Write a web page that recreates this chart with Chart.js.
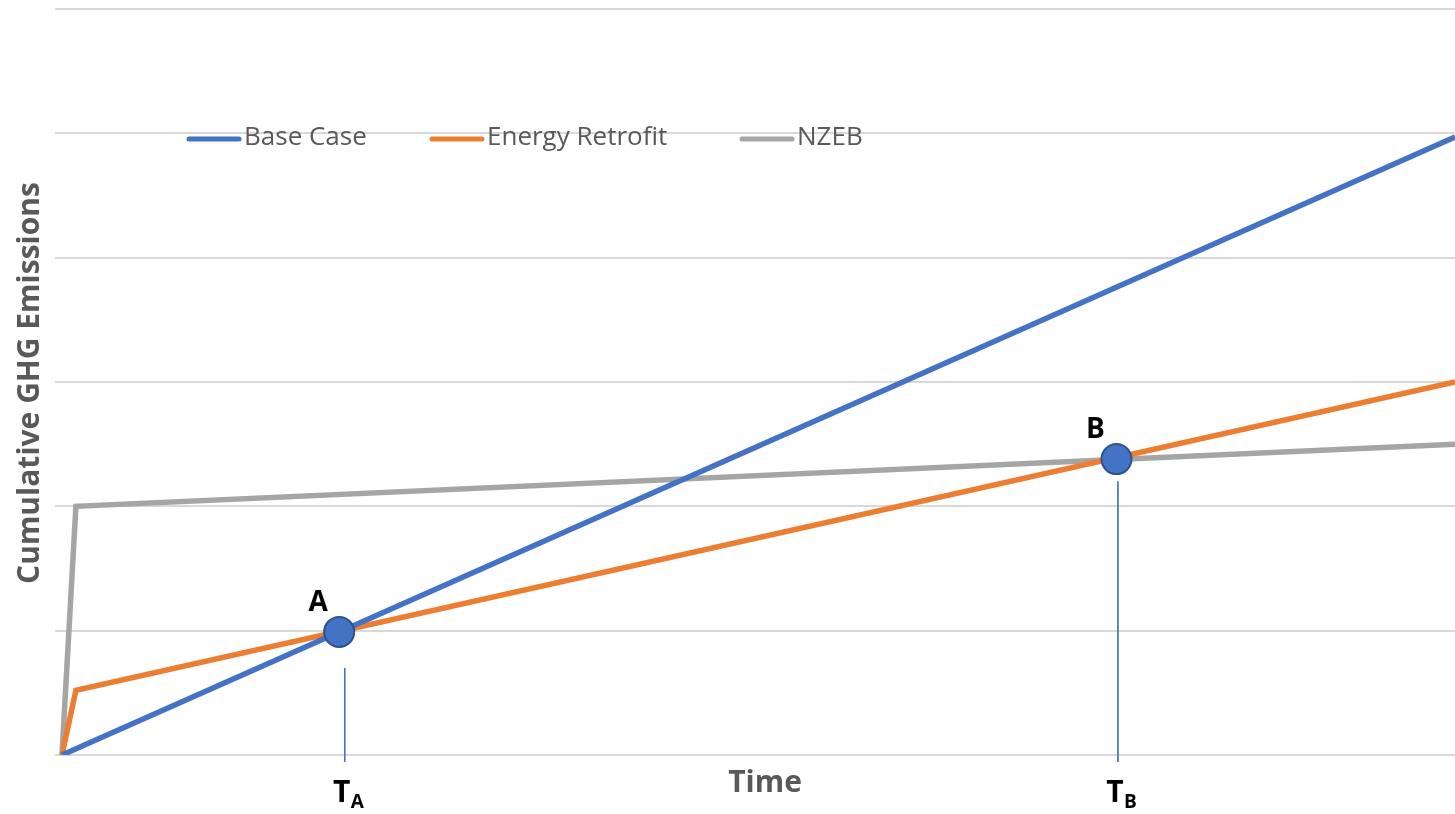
<!DOCTYPE html>
<html lang="en">
<head>
    <meta charset="UTF-8">
    <title>Cumulative GHG Emissions</title>
    <script src="https://cdn.jsdelivr.net/npm/chart.js"></script>
    <style>
        body { margin: 0; background: #fff; }
    </style>
</head>
<body>
    <canvas id="grafico" width="1455" height="814"></canvas>

    <script>
        // data (time in % of the horizon, emissions in arbitrary units)
        const baseTime = [0, 100];
        const baseValues = [0, 49.7];
        const retrofitTime = [0, 1, 100];
        const retrofitValues = [0, 5.2, 30];
        const nzebTime = [0, 1, 100];
        const nzebValues = [0, 20, 25];

        const pointNames = ["A", "B"];
        const pointTime = [19.9, 75.7];
        const pointValues = [9.9, 23.8];

        // thin markers going down to the axis
        const dropTime = [20.3, 75.8];
        const dropTop = [7.0, 22.0];
        const dropBottom = -0.55;

        const seriesNames = ["Base Case", "Energy Retrofit", "NZEB"];
        const seriesColors = ["#4472C4", "#ED7D31", "#A5A5A5"];

        function pares(xs, ys) {
            return xs.map((x, i) => ({ x: x, y: ys[i] }));
        }

        const datasets = [
            { label: seriesNames[0], data: pares(baseTime, baseValues), borderColor: seriesColors[0] },
            { label: seriesNames[1], data: pares(retrofitTime, retrofitValues), borderColor: seriesColors[1] },
            { label: seriesNames[2], data: pares(nzebTime, nzebValues), borderColor: seriesColors[2] }
        ].map(d => Object.assign(d, {
            showLine: true, borderWidth: 5.5, pointRadius: 0, borderJoinStyle: "miter", order: 2
        }));

        dropTime.forEach((t, i) => {
            datasets.push({
                label: "drop" + i,
                data: [{ x: t, y: dropTop[i] }, { x: t, y: dropBottom }],
                showLine: true, borderColor: "#4472C4", borderWidth: 1, pointRadius: 0,
                clip: false, order: 3
            });
        });

        datasets.push({
            label: "pontos",
            data: pares(pointTime, pointValues),
            showLine: false,
            pointRadius: 15,
            pointBackgroundColor: "#4472C4",
            pointBorderColor: "#2F528F",
            pointBorderWidth: 2,
            order: 1
        });

        // texts: legend, axis titles, A/B and T_A/T_B labels
        const textos = {
            id: "textos",
            afterDraw(chart) {
                const c = chart.ctx;
                const xs = chart.scales.x, ys = chart.scales.y;
                c.save();

                // legend
                const legX = [187, 430, 740];
                c.font = "26px 'Open Sans'";
                c.textBaseline = "middle";
                c.lineCap = "round";
                seriesNames.forEach((nome, i) => {
                    c.strokeStyle = seriesColors[i];
                    c.lineWidth = 5;
                    c.beginPath();
                    c.moveTo(legX[i] + 2, 139);
                    c.lineTo(legX[i] + 52, 139);
                    c.stroke();
                    c.fillStyle = "#595959";
                    c.textAlign = "left";
                    c.fillText(nome, legX[i] + 57, 138);
                });

                // axis titles
                c.fillStyle = "#595959";
                c.font = "bold 30px 'Open Sans'";
                c.textAlign = "center";
                c.fillText("Time", 765, 783);
                c.save();
                c.translate(30, 383);
                c.rotate(-Math.PI / 2);
                c.fillText("Cumulative GHG Emissions", 0, 0);
                c.restore();

                // A / B
                c.fillStyle = "#000";
                c.font = "bold 28px 'Open Sans'";
                pointNames.forEach((n, i) => {
                    const px = xs.getPixelForValue(pointTime[i]);
                    const py = ys.getPixelForValue(pointValues[i]);
                    c.fillText(n, px - 21, py - 29);
                });

                // T_A / T_B
                pointNames.forEach((n, i) => {
                    const px = xs.getPixelForValue(dropTime[i]);
                    c.font = "bold 30px 'Open Sans'";
                    c.textAlign = "center";
                    c.fillText("T", px - 3, 793);
                    c.font = "bold 19px 'Open Sans'";
                    c.textAlign = "left";
                    c.fillText(n, px + 6, 803);
                    c.textAlign = "center";
                });

                c.restore();
            }
        };

        new Chart(document.getElementById("grafico"), {
            type: "scatter",
            data: { datasets: datasets },
            options: {
                responsive: false,
                animation: false,
                layout: { autoPadding: false, padding: { left: 55, right: 0, top: 9, bottom: 59 } },
                plugins: { legend: { display: false }, tooltip: { enabled: false } },
                scales: {
                    x: {
                        type: "linear", min: -0.5, max: 100, display: false
                    },
                    y: {
                        min: 0, max: 60,
                        ticks: { display: false, stepSize: 10 },
                        grid: { color: "#D9D9D9", lineWidth: 2, drawTicks: false },
                        border: { display: false },
                        afterFit(axis) { axis.width = 0; }
                    }
                }
            },
            plugins: [textos]
        });
    </script>
</body>
</html>
